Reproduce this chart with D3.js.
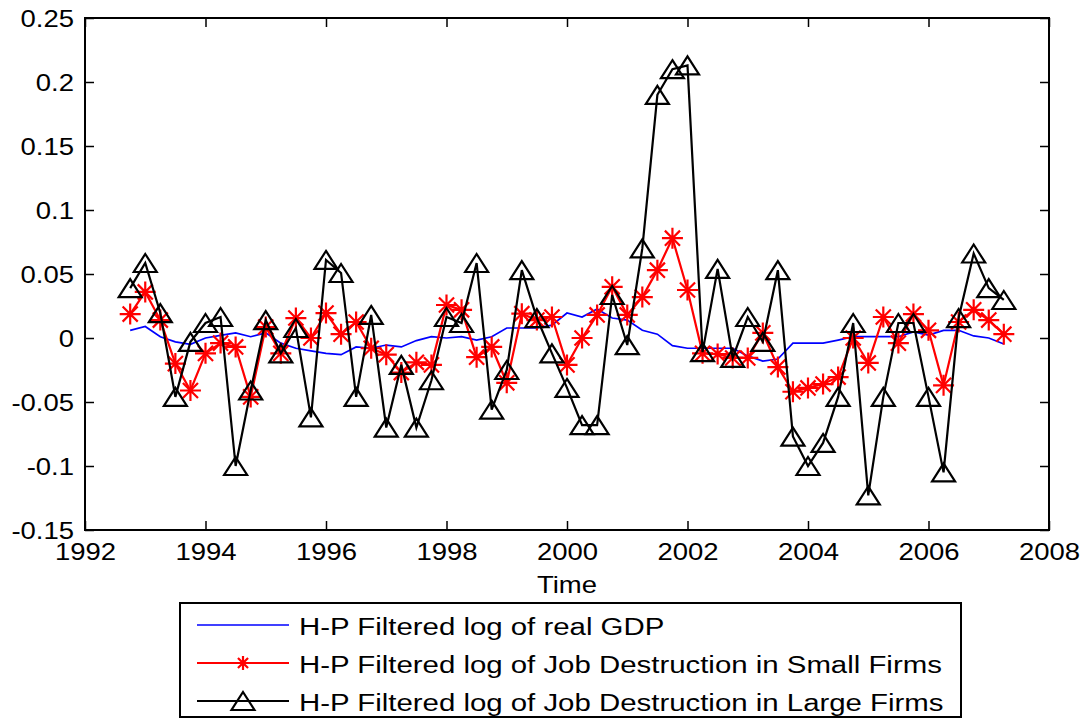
<!DOCTYPE html>
<html>
<head>
<meta charset="utf-8">
<script src="https://cdn.jsdelivr.net/npm/d3@7"></script>
<style>
  body { margin: 0; background: #fff; }
  text { font-family: "Liberation Sans", Arial, sans-serif; fill: #000; }
</style>
</head>
<body>
<svg width="1086" height="719"></svg>
<script>
// Data ========================================================================

const quarters = [
  1992.75, 1993.0, 1993.25, 1993.5, 1993.75, 1994.0, 1994.25, 1994.5, 1994.75,
  1995.0, 1995.25, 1995.5, 1995.75, 1996.0, 1996.25, 1996.5, 1996.75,
  1997.0, 1997.25, 1997.5, 1997.75, 1998.0, 1998.25, 1998.5, 1998.75,
  1999.0, 1999.25, 1999.5, 1999.75, 2000.0, 2000.25, 2000.5, 2000.75,
  2001.0, 2001.25, 2001.5, 2001.75, 2002.0, 2002.25, 2002.5, 2002.75,
  2003.0, 2003.25, 2003.5, 2003.75, 2004.0, 2004.25, 2004.5, 2004.75,
  2005.0, 2005.25, 2005.5, 2005.75, 2006.0, 2006.25, 2006.5, 2006.75,
  2007.0, 2007.25
];

const gdp = [
  0.006, 0.009, 0.001, -0.003, -0.005, 0.0, 0.002, 0.004, 0.001,
  0.004, -0.004, -0.008, -0.010, -0.012, -0.013, -0.007, -0.008,
  -0.0055, -0.007, -0.002, 0.001, 0.0, 0.001, -0.0016, 0.001,
  0.0078, 0.0078, 0.0078, 0.010, 0.0195, 0.0164, 0.0227, 0.0156,
  0.014, 0.006, 0.003, -0.006, -0.008, -0.008, -0.008, -0.008,
  -0.014, -0.018, -0.0164, -0.004, -0.004, -0.004, -0.0016, 0.001,
  0.001, 0.001, 0.001, 0.0047, 0.0023, 0.006, 0.006, 0.0016,
  0.0, -0.0047
];

const smallFirms = [
  0.0187, 0.036, 0.014, -0.020, -0.041, -0.012, -0.004, -0.007, -0.046,
  0.0086, -0.012, 0.0156, 0.0, 0.0195, 0.003, 0.0125, -0.008,
  -0.013, -0.027, -0.019, -0.021, 0.0258, 0.022, -0.015, -0.007,
  -0.035, 0.019, 0.014, 0.0164, -0.021, 0.0, 0.018, 0.040,
  0.018, 0.032, 0.053, 0.078, 0.0375, -0.012, -0.0125, -0.0156,
  -0.0156, 0.004, -0.0227, -0.042, -0.039, -0.036, -0.0305, 0.0,
  -0.0195, 0.0164, -0.004, 0.0187, 0.006, -0.037, 0.0125, 0.022,
  0.014, 0.003
];

const largeFirms = [
  0.039, 0.0586, 0.0195, -0.046, -0.003, 0.0117, 0.0164, -0.100, -0.041,
  0.014, -0.012, 0.0078, -0.062, 0.061, 0.0508, -0.046, 0.018,
  -0.070, -0.021, -0.070, -0.033, 0.0164, 0.0117, 0.0586, -0.056,
  -0.025, 0.053, 0.0156, -0.012, -0.039, -0.068, -0.068, 0.0336,
  -0.0055, 0.070, 0.190, 0.210, 0.213, -0.011, 0.054, -0.0156,
  0.0164, -0.003, 0.053, -0.077, -0.100, -0.082, -0.046, 0.0117,
  -0.123, -0.046, 0.0117, 0.0117, -0.046, -0.105, 0.0156, 0.066,
  0.039, 0.0297
];

const xTicks = [1992, 1994, 1996, 1998, 2000, 2002, 2004, 2006, 2008];
const yTicks = [-0.15, -0.1, -0.05, 0, 0.05, 0.1, 0.15, 0.2, 0.25];

const seriesNames = [
  "H-P Filtered log of real GDP",
  "H-P Filtered log of Job Destruction in Small Firms",
  "H-P Filtered log of Job Destruction in Large Firms"
];

// Setup =======================================================================

const plotL = 85, plotR = 1049, plotT = 18, plotB = 530;
const fontSize = 23.5, stretch = 1.17; // text in the figure is a bit wide

const svg = d3.select("svg");

const x = d3.scaleLinear().domain([1992, 2008]).range([plotL, plotR]);
const y = d3.scaleLinear().domain([-0.15, 0.25]).range([plotB, plotT]);

const fmtY = d => String(+d.toFixed(2));

// Axes ========================================================================

const tickLen = 9;

function styleAxis(g) {
  g.select(".domain").remove();
  g.selectAll(".tick line").attr("stroke", "#000").attr("stroke-width", 1.5);
}

svg.append("g")
  .attr("transform", `translate(${plotL},0)`)
  .call(d3.axisLeft(y).tickValues(yTicks).tickFormat(fmtY).tickSize(-tickLen).tickPadding(11))
  .call(styleAxis)
  .call(g => g.selectAll("text")
    .attr("font-size", fontSize)
    .attr("x", -11 / stretch)
    .attr("dy", null)
    .attr("y", 8.5)
    .attr("transform", `scale(${stretch},1)`));

svg.append("g")
  .attr("transform", `translate(${plotR},0)`)
  .call(d3.axisRight(y).tickValues(yTicks).tickFormat("").tickSize(-tickLen))
  .call(styleAxis);

svg.append("g")
  .attr("transform", `translate(0,${plotB})`)
  .call(d3.axisBottom(x).tickValues(xTicks).tickFormat(d3.format("d")).tickSize(-tickLen))
  .call(styleAxis)
  .call(g => g.selectAll("text")
    .attr("font-size", fontSize)
    .attr("dy", null)
    .attr("y", 30)
    .attr("transform", `scale(${stretch},1)`));

svg.append("g")
  .attr("transform", `translate(0,${plotT})`)
  .call(d3.axisTop(x).tickValues(xTicks).tickFormat("").tickSize(-tickLen))
  .call(styleAxis);

svg.append("rect")
  .attr("x", plotL).attr("y", plotT)
  .attr("width", plotR - plotL).attr("height", plotB - plotT)
  .attr("fill", "none").attr("stroke", "#000").attr("stroke-width", 2);

svg.append("text")
  .attr("text-anchor", "middle")
  .attr("font-size", fontSize)
  .attr("transform", `translate(${(plotL + plotR) / 2},593) scale(${stretch},1)`)
  .text("Time");

// Markers =====================================================================

const star = s => {
  const d = s * 0.72;
  return `M${-s},0H${s}M0,${-s}V${s}M${-d},${-d}L${d},${d}M${-d},${d}L${d},${-d}`;
};
const starPath = star(10.5);

const triPath = "M0,-9L11.5,9L-11.5,9Z";

// Lines =======================================================================

const line = d3.line()
  .x(d => x(d[0]))
  .y(d => y(d[1]));

const gdpPts = d3.zip(quarters, gdp);
const smallPts = d3.zip(quarters, smallFirms);
const largePts = d3.zip(quarters, largeFirms);

svg.append("path")
  .datum(gdpPts)
  .attr("d", line)
  .attr("fill", "none")
  .attr("stroke", "#0000ff")
  .attr("stroke-width", 1.7);

svg.append("path")
  .datum(smallPts)
  .attr("d", line)
  .attr("fill", "none")
  .attr("stroke", "#ff0000")
  .attr("stroke-width", 2.2);

svg.selectAll(".star")
  .data(smallPts)
  .enter()
  .append("path")
  .attr("class", "star")
  .attr("d", starPath)
  .attr("transform", d => `translate(${x(d[0])},${y(d[1])})`)
  .attr("fill", "none")
  .attr("stroke", "#ff0000")
  .attr("stroke-width", 2.2);

svg.append("path")
  .datum(largePts)
  .attr("d", line)
  .attr("fill", "none")
  .attr("stroke", "#000")
  .attr("stroke-width", 2.2);

svg.selectAll(".tri")
  .data(largePts)
  .enter()
  .append("path")
  .attr("class", "tri")
  .attr("d", triPath)
  .attr("transform", d => `translate(${x(d[0])},${y(d[1])})`)
  .attr("fill", "none")
  .attr("stroke", "#000")
  .attr("stroke-width", 2.2);

// Legend ======================================================================

const legend = svg.append("g");

legend.append("rect")
  .attr("x", 180).attr("y", 603)
  .attr("width", 781).attr("height", 114)
  .attr("fill", "#fff").attr("stroke", "#000").attr("stroke-width", 2);

const legendColors = ["#0000ff", "#ff0000", "#000"];
const legendMarks = [null, star(7), triPath];

seriesNames.forEach((name, i) => {
  const ly = 625 + i * 38;
  legend.append("line")
    .attr("x1", 197).attr("x2", 289)
    .attr("y1", ly).attr("y2", ly)
    .attr("stroke", legendColors[i])
    .attr("stroke-width", i === 0 ? 1.7 : 2.2);
  if (legendMarks[i]) {
    legend.append("path")
      .attr("d", legendMarks[i])
      .attr("transform", `translate(243,${ly})`)
      .attr("fill", "none")
      .attr("stroke", legendColors[i])
      .attr("stroke-width", 2.2);
  }
  legend.append("text")
    .attr("font-size", 24.5)
    .attr("transform", `translate(299,${ly + 9.5}) scale(1.2,1)`)
    .text(name);
});
</script>
</body>
</html>
